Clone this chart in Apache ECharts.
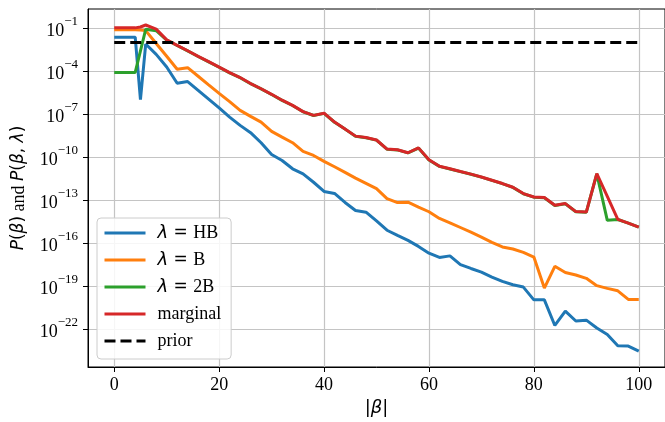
<!DOCTYPE html>
<html>
<head>
<meta charset="utf-8">
<script src="https://cdn.jsdelivr.net/npm/echarts@6/dist/echarts.min.js"></script>
<style>html,body{margin:0;padding:0;background:#fff}#c{width:665px;height:422px}</style>
</head>
<body>
<div id="c"></div>
<script>
// |beta| values
const betaVals = [0,2,4,5,6,8,10,12,14,16,18,20,22,24,26,28,30,32,34,36,38,40,42,44,46,48,50,52,54,56,58,60,62,64,66,68,70,72,74,76,78,80,82,84,86,88,90,92,94,96,98,100];
// log10 of probabilities
const log10_HB = [-1.64,-1.64,-1.64,-6.0,-2.12,-2.84,-3.72,-4.86,-4.74,-5.35,-5.96,-6.58,-7.22,-7.80,-8.31,-9.01,-9.83,-10.25,-10.83,-11.18,-11.77,-12.41,-12.55,-13.18,-13.74,-13.86,-14.47,-15.12,-15.48,-15.83,-16.25,-16.72,-17.02,-16.91,-17.52,-17.79,-18.04,-18.39,-18.69,-18.93,-19.09,-19.98,-19.98,-21.77,-20.77,-21.46,-21.40,-21.95,-22.40,-23.19,-23.21,-23.56];
const log10_B = [-1.13,-1.13,-1.13,-1.14,-1.18,-2.08,-2.97,-3.88,-3.77,-4.37,-4.97,-5.56,-6.14,-6.75,-7.17,-7.57,-8.22,-8.62,-9.01,-9.62,-9.90,-10.31,-10.69,-11.08,-11.48,-11.85,-12.22,-12.91,-13.19,-13.16,-13.50,-13.83,-14.30,-14.60,-14.93,-15.26,-15.60,-15.97,-16.29,-16.43,-16.67,-16.99,-19.16,-17.64,-18.07,-18.25,-18.48,-18.99,-19.18,-19.35,-19.95,-19.95];
const log10_2B = [-4.10,-4.10,-4.10,-2.60,-1.09,-1.19,-1.84,-2.22,-2.60,-2.99,-3.36,-3.74,-4.13,-4.47,-4.89,-5.25,-5.64,-6.05,-6.41,-6.85,-7.11,-6.96,-7.58,-8.06,-8.56,-8.66,-8.83,-9.46,-9.51,-9.72,-9.38,-10.21,-10.66,-10.84,-11.03,-11.21,-11.41,-11.64,-11.87,-12.13,-12.57,-12.81,-12.85,-13.39,-13.27,-13.83,-13.86,-11.18,-14.43,-14.37,-14.63,-14.91];
const log10_marginal = [-0.99,-0.99,-0.99,-0.93,-0.79,-1.08,-1.83,-2.21,-2.59,-2.98,-3.35,-3.73,-4.12,-4.46,-4.88,-5.24,-5.63,-6.04,-6.40,-6.84,-7.10,-6.95,-7.57,-8.05,-8.55,-8.65,-8.82,-9.45,-9.50,-9.71,-9.37,-10.20,-10.65,-10.83,-11.02,-11.20,-11.40,-11.63,-11.86,-12.12,-12.56,-12.80,-12.84,-13.38,-13.26,-13.82,-13.85,-11.17,-12.75,-14.36,-14.62,-14.90];
const priorX = [0, 100];
const priorP = [0.0099, 0.0099];
const xTicks = [0,20,40,60,80,100];
const yTicks = [1e-22,1e-19,1e-16,1e-13,1e-10,1e-7,1e-4,1e-1];
const seriesNames = ['λ = HB','λ = B','λ = 2B','marginal','prior'];

const toPairs = (xs, logs) => xs.map((x, i) => [x, Math.pow(10, logs[i])]);
const SERIF = 'Liberation Serif';
const MATH = 'DejaVu Sans';

const chart = echarts.init(document.getElementById('c'), null, {renderer: 'canvas'});
const mkLine = (name, data, color, extra) => Object.assign({
  name, type: 'line', data, symbol: 'none', showSymbol: false,
  lineStyle: {color, width: 3}, itemStyle: {color}, animation: false, clip: true
}, extra || {});

chart.setOption({
  animation: false,
  grid: {left: 88, top: 9, width: 581, height: 358, show: true, borderColor: '#000', borderWidth: 1, containLabel: false},
  xAxis: {
    type: 'value', min: -5, max: 105,
    name: '{r||}{i|β}{r||}', nameLocation: 'middle', nameGap: 32,
    nameTextStyle: {rich: {r: {fontFamily: MATH, fontSize: 18, color: '#000'}, i: {fontFamily: MATH, fontStyle: 'italic', fontSize: 18, color: '#000'}}},
    axisLine: {show: true, onZero: false, lineStyle: {color: '#000', width: 1}},
    axisTick: {show: true, inside: false, length: 5, lineStyle: {color: '#000'}, customValues: xTicks},
    axisLabel: {customValues: xTicks, fontFamily: SERIF, fontSize: 18, color: '#000', margin: 9},
    splitLine: {show: true, customValues: xTicks, lineStyle: {color: '#c4c4c4', width: 1.2}}
  },
  yAxis: {
    type: 'log', logBase: 10, min: Math.pow(10, -24.67), max: Math.pow(10, 0.327),
    name: '{i|P}{r|(}{i|β}{r|)}{t| and }{i|P}{r|(}{i|β}{r|, }{i|λ}{r|)}',
    nameLocation: 'middle', nameGap: 60, nameRotate: 90,
    nameTextStyle: {rich: {
      i: {fontFamily: MATH, fontStyle: 'italic', fontSize: 17, color: '#000'},
      r: {fontFamily: MATH, fontSize: 17, color: '#000'},
      t: {fontFamily: SERIF, fontSize: 18, color: '#000'}
    }},
    axisLine: {show: true, onZero: false, lineStyle: {color: '#000', width: 1}},
    axisTick: {show: true, inside: false, length: 5, lineStyle: {color: '#000'}, customValues: yTicks},
    axisLabel: {
      customValues: yTicks, margin: 10,
      formatter: v => '{b|10}{e|−' + Math.round(-Math.log10(v)) + '}',
      rich: {
        b: {fontFamily: SERIF, fontSize: 18, color: '#000', verticalAlign: 'bottom', lineHeight: 25},
        e: {fontFamily: SERIF, fontSize: 13, color: '#000', verticalAlign: 'top', lineHeight: 14}
      }
    },
    splitLine: {show: true, customValues: yTicks, lineStyle: {color: '#c4c4c4', width: 1.2}}
  },
  legend: {
    orient: 'vertical', left: 97, top: 218,
    data: seriesNames,
    itemWidth: 41, itemHeight: 14, itemGap: 9,
    padding: [6, 10, 9, 6],
    itemStyle: {opacity: 0},
    lineStyle: {width: 3},
    backgroundColor: 'rgba(255,255,255,0.85)', borderColor: '#cccccc', borderWidth: 1, borderRadius: 4,
    formatter: name => name.startsWith('λ') ? '{m|λ}{q| = }{t|' + name.slice(4) + '}' : '{t|' + name + '}',
    textStyle: {
      padding: [0, 0, 0, 7],
      rich: {
        m: {fontFamily: MATH, fontStyle: 'italic', fontSize: 18, color: '#000', lineHeight: 18},
        q: {fontFamily: MATH, fontSize: 17, color: '#000', lineHeight: 18},
        t: {fontFamily: SERIF, fontSize: 18, color: '#000', lineHeight: 18}
      }
    }
  },
  series: [
    mkLine(seriesNames[0], toPairs(betaVals, log10_HB), '#1f77b4'),
    mkLine(seriesNames[1], toPairs(betaVals, log10_B), '#ff7f0e'),
    mkLine(seriesNames[2], toPairs(betaVals, log10_2B), '#2ca02c'),
    mkLine(seriesNames[3], toPairs(betaVals, log10_marginal), '#d62728'),
    mkLine(seriesNames[4], priorX.map((x, i) => [x, priorP[i]]), '#000', {lineStyle: {color: '#000', width: 3, type: [11, 5]}})
  ]
});
</script>
</body>
</html>
